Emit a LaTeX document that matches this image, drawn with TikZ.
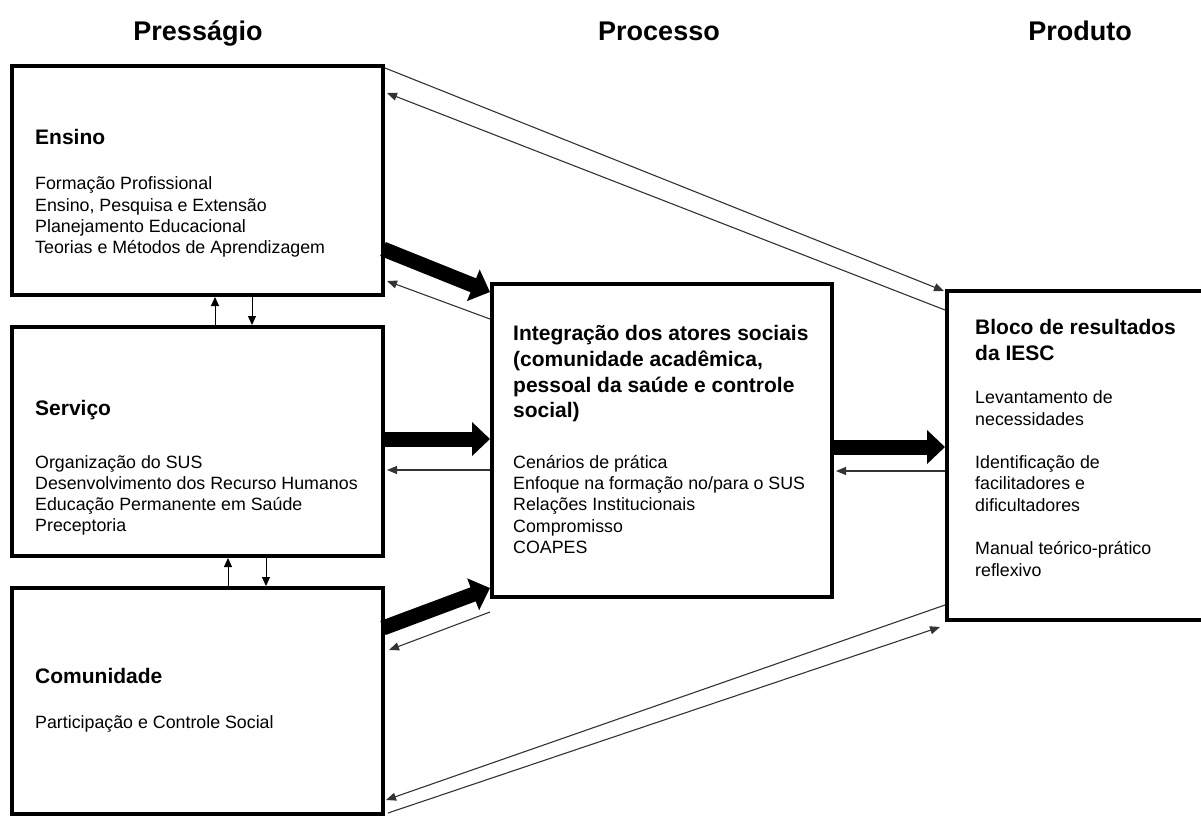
\documentclass[tikz,border=0pt]{standalone}
\usepackage{fontspec}
\setmainfont{Liberation Sans}
\usetikzlibrary{arrows.meta,calc}

\begin{document}
\begin{tikzpicture}[x=1pt,y=-1pt,
  box/.style={draw, line width=4pt, inner sep=0pt, outer sep=0pt, anchor=north west},
  head/.style={font=\fontsize{27}{32}\selectfont\bfseries, anchor=base, inner sep=0pt},
  ttl/.style={font=\fontsize{21}{26}\selectfont\bfseries, anchor=base west, inner sep=0pt},
  body/.style={font=\fontsize{17.8}{21}\selectfont, anchor=base west, inner sep=0pt},
  big/.style={line width=15pt, -{Triangle[length=18pt,width=33pt]}},
  thin/.style={line width=1.1pt, draw=black!80, -{Triangle[length=10pt,width=8pt]}},
  tiny/.style={line width=1pt, -{Triangle[length=9pt,width=8pt]}}
]
\useasboundingbox (0,0) rectangle (1201,817);
\clip (0,0) rectangle (1201,817);

% column headings
\node[head] (hpre)  at (198,40)  {Presságio};
\node[head] (hproc) at (659,40)  {Processo};
\node[head] (hprod) at (1080,40) {Produto};

% boxes
\node[box, minimum width=371pt, minimum height=229pt] (ensino) at (12,66)  {};
\node[box, minimum width=371pt, minimum height=229pt] (serv)   at (12,327) {};
\node[box, minimum width=371pt, minimum height=226pt] (comu)   at (12,588) {};
\node[box, minimum width=340pt, minimum height=313pt] (proc)   at (492,284) {};
\node[box, minimum width=270pt, minimum height=329pt] (prod)   at (947,291) {};

% Ensino
\node[ttl]  (e0) at (35,144) {Ensino};
\node[body] (e1) at (35,189) {Formação Profissional};
\node[body] (e2) at (35,211) {Ensino, Pesquisa e Extensão};
\node[body] (e3) at (35,232) {Planejamento Educacional};
\node[body] (e4) at (35,253) {Teorias e Métodos de Aprendizagem};

% Serviço
\node[ttl]  (s0) at (35,415) {Serviço};
\node[body] (s1) at (35,468) {Organização do SUS};
\node[body] (s2) at (35,489) {Desenvolvimento dos Recurso Humanos};
\node[body] (s3) at (35,510) {Educação Permanente em Saúde};
\node[body] (s4) at (35,531) {Preceptoria};

% Comunidade
\node[ttl]  (c0) at (35,683) {Comunidade};
\node[body] (c1) at (35,728) {Participação e Controle Social};

% Processo
\node[ttl]  (p0) at (513,340) {Integração dos atores sociais};
\node[ttl]  (p1) at (513,366) {(comunidade acadêmica,};
\node[ttl]  (p2) at (513,392) {pessoal da saúde e controle};
\node[ttl]  (p3) at (513,417) {social)};
\node[body] (p4) at (513,468) {Cenários de prática};
\node[body] (p5) at (513,489) {Enfoque na formação no/para o SUS};
\node[body] (p6) at (513,510) {Relações Institucionais};
\node[body] (p7) at (513,532) {Compromisso};
\node[body] (p8) at (513,553) {COAPES};

% Produto
\node[ttl]  (r0) at (975,334) {Bloco de resultados};
\node[ttl]  (r1) at (975,360) {da IESC};
\node[body] (r2) at (975,403) {Levantamento de};
\node[body] (r3) at (975,425) {necessidades};
\node[body] (r4) at (975,468) {Identificação de};
\node[body] (r5) at (975,489) {facilitadores e};
\node[body] (r6) at (975,511) {dificultadores};
\node[body] (r7) at (975,554) {Manual teórico-prático};
\node[body] (r8) at (975,576) {reflexivo};

% main flows
\draw[big] ($(ensino.north east)+(0,183)$) -- ($(proc.north west)+(-2,8)$);
\draw[big] ($(serv.north east)+(0,112)$)   -- ($(proc.north west)+(-2,155)$);
\draw[big] ($(comu.north east)+(0,40)$)    -- ($(proc.south west)+(-2,-9)$);
\draw[big] ($(proc.north east)+(0,163)$)   -- ($(prod.north west)+(-2,156)$);

% feedback links
\draw[thin] ($(ensino.north east)+(2,2)$)  -- ($(prod.north west)+(-3,0)$);
\draw[thin] ($(prod.north west)+(-2,19)$)  -- ($(ensino.north east)+(4,27)$);
\draw[thin] ($(proc.north west)+(-2,35)$)  -- ($(ensino.south east)+(4,-14)$);
\draw[thin] ($(proc.north west)+(-2,186)$) -- ($(serv.north east)+(4,143)$);
\draw[thin] ($(prod.north west)+(-2,180)$) -- ($(proc.north east)+(4,187)$);
\draw[thin] ($(proc.south west)+(-2,15)$)  -- ($(comu.north east)+(6,62)$);
\draw[thin] ($(prod.south west)+(-2,-15)$) -- ($(comu.south east)+(3,-14)$);
\draw[thin] ($(comu.south east)+(5,-1)$)   -- ($(prod.south west)+(-7,7)$);

% links between the Presságio boxes
\draw[tiny] ($(serv.north west)+(203,-2)$)   -- ($(ensino.south west)+(203,2)$);
\draw[tiny] ($(ensino.south west)+(240,2)$)  -- ($(serv.north west)+(240,-2)$);
\draw[tiny] ($(comu.north west)+(216,-2)$)   -- ($(serv.south west)+(216,2)$);
\draw[tiny] ($(serv.south west)+(254,2)$)    -- ($(comu.north west)+(254,-2)$);
\end{tikzpicture}
\end{document}
